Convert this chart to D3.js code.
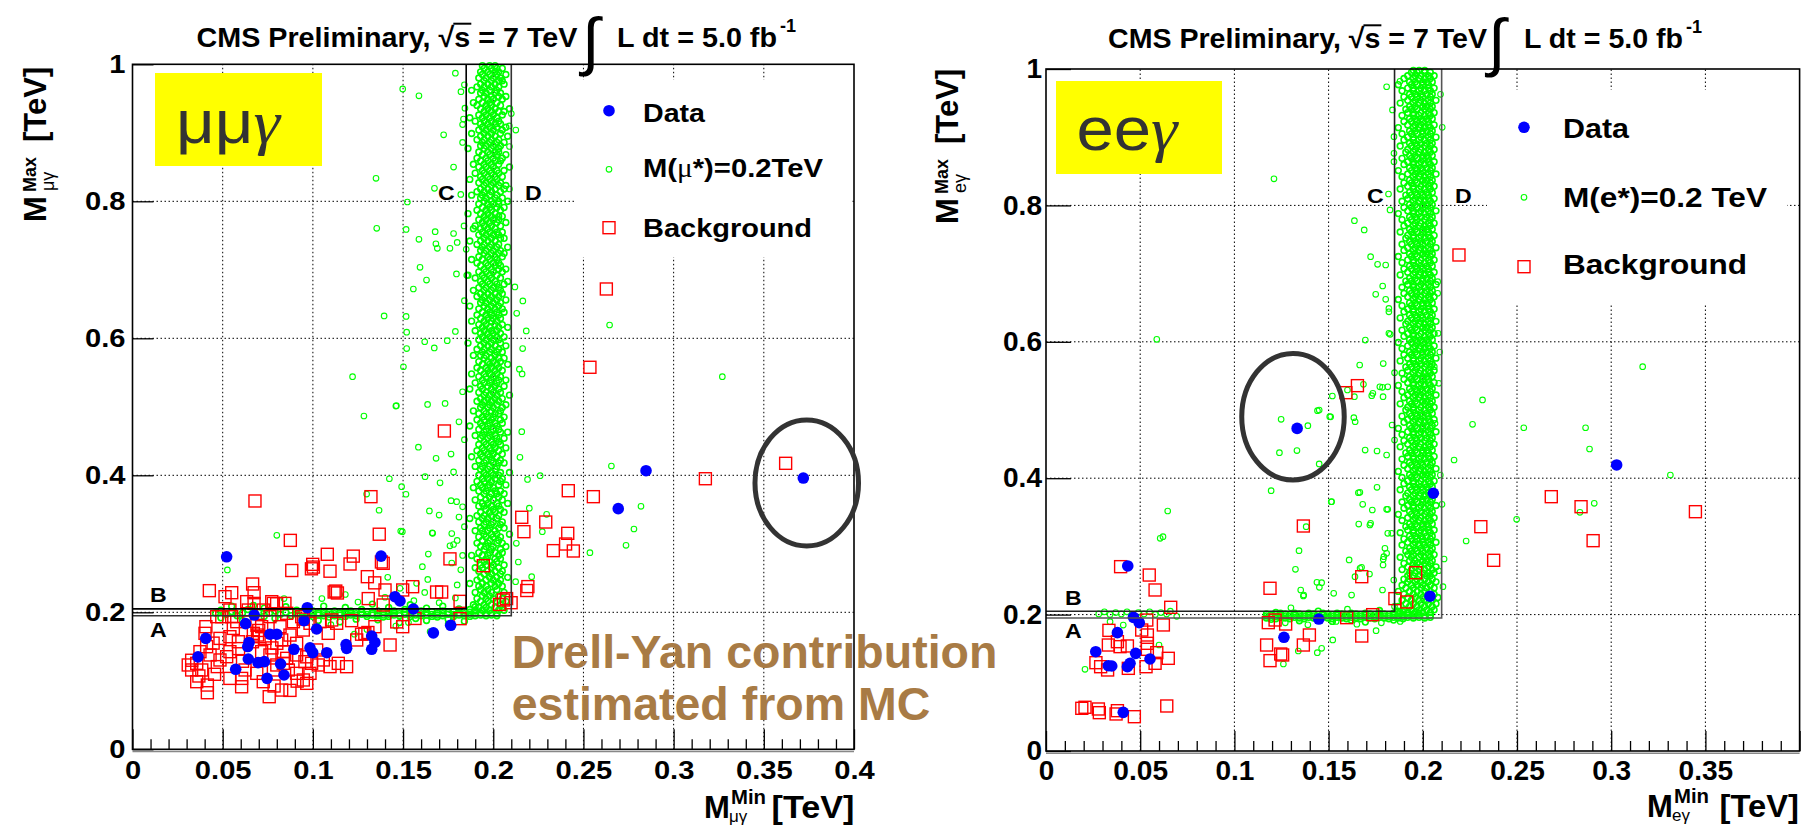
<!DOCTYPE html>
<html><head><meta charset="utf-8">
<script src="https://cdn.jsdelivr.net/npm/d3@7"></script>
<style>
body{margin:0;background:#fff}
svg{display:block}
text{font-family:"Liberation Sans",Arial,Helvetica,sans-serif}
</style>
</head><body>
<svg id="c" width="1812" height="827"></svg>
<script>
// ---------------- axis ticks ----------------
const xMajor = [0,0.05,0.1,0.15,0.2,0.25,0.3,0.35,0.4];
const xLabelsMu = ["0","0.05","0.1","0.15","0.2","0.25","0.3","0.35","0.4"];
const xLabelsE = ["0","0.05","0.1","0.15","0.2","0.25","0.3","0.35",""];
const xMinor = [0.01,0.02,0.03,0.04,0.06,0.07,0.08,0.09,0.11,0.12,0.13,0.14,0.16,0.17,0.18,0.19,0.21,0.22,0.23,0.24,0.26,0.27,0.28,0.29,0.31,0.32,0.33,0.34,0.36,0.37,0.38,0.39];
const yMajor = [0,0.2,0.4,0.6,0.8,1];
const yLabels = ["0","0.2","0.4","0.6","0.8","1"];
const gridX = [0.05,0.1,0.15,0.2,0.25,0.3,0.35];
const gridY = [0.2,0.4,0.6,0.8];
// selection boundaries (TeV): inner cut and outer cut
const cutInner = [0.185, 0.205];
const cutOuter = [0.21, 0.195];
// highlighted events (centre x, centre y, half-width, half-height in TeV)
const circleMu = [0.3738, 0.3888, 0.0287, 0.092];
const circleE = [0.1311, 0.4902, 0.0272, 0.0928];

// ---------------- mu mu gamma : data ----------------
const muData = [[0.0522,0.281],[0.1378,0.282],[0.0969,0.2067],[0.0675,0.196],[0.0627,0.1834],[0.0951,0.1878],[0.1021,0.1756],[0.0406,0.162],[0.0363,0.135],[0.0646,0.156],[0.0639,0.150],[0.0762,0.168],[0.080,0.168],[0.0895,0.146],[0.0984,0.148],[0.0999,0.141],[0.1077,0.141],[0.0642,0.1318],[0.0696,0.1265],[0.0731,0.128],[0.0821,0.1245],[0.0572,0.1168],[0.084,0.1085],[0.0746,0.1036],[0.1184,0.153],[0.1187,0.1474],[0.1326,0.1654],[0.1344,0.156],[0.1326,0.146],[0.1455,0.2228],[0.1483,0.2165],[0.1557,0.2048],[0.1668,0.170],[0.1764,0.181],[0.2847,0.4067],[0.2693,0.3513],[0.3719,0.396]];

const muBkg = [[0.0679,0.3625],[0.1322,0.3688],[0.0875,0.305],[0.1368,0.314],[0.108,0.2847],[0.1224,0.282],[0.0999,0.270],[0.1003,0.266],[0.0992,0.2635],[0.0883,0.261],[0.1095,0.260],[0.1206,0.2705],[0.139,0.2715],[0.1302,0.252],[0.1343,0.243],[0.176,0.278],[0.1945,0.268],[0.2158,0.3387],[0.217,0.3177],[0.2192,0.2375],[0.2186,0.2318],
[0.0426,0.2316],[0.0666,0.2413],[0.055,0.2286],[0.0513,0.2228],[0.0674,0.2286],[0.0674,0.213],[0.0772,0.2155],[0.0845,0.213],[0.1127,0.231],[0.1118,0.2296],[0.1136,0.2282],[0.1307,0.22],[0.14,0.2326],[0.139,0.2107],[0.1553,0.2374],[0.1686,0.2296],[0.1714,0.2296],[0.1816,0.216],[0.1498,0.2326],[0.2056,0.218],[0.2074,0.220],[0.1816,0.1907],[0.1498,0.179],[0.1566,0.191],[0.1465,0.186],[0.1215,0.1878],[0.1104,0.1888],[0.1085,0.1693],[0.1344,0.179],[0.127,0.168],[0.1288,0.169],[0.1305,0.1705],[0.1428,0.1523],[0.1243,0.1596],[0.1187,0.1206],
[0.1729,0.4647],[0.2627,0.672],[0.2536,0.5577],[0.2416,0.3775],[0.2555,0.3688],[0.3176,0.395],[0.3621,0.4175],[0.2291,0.3318],[0.2333,0.290],[0.2401,0.2997],[0.2413,0.3153],[0.2444,0.2895],[0.138,0.2735],[0.2099,0.214],[0.2035,0.2115],
[0.0328,0.130],[0.0328,0.1158],[0.0356,0.0987],[0.0415,0.0938],[0.0415,0.0826],[0.0384,0.1158],[0.0374,0.1425],[0.0407,0.179],[0.0402,0.1693],[0.043,0.1377],[0.0485,0.1619],[0.047,0.1207],[0.054,0.1035],[0.0522,0.1352],[0.054,0.1425],[0.0559,0.1765],[0.055,0.1936],[0.0495,0.1936],[0.0587,0.157],[0.0605,0.1035],[0.0605,0.0913],[0.0624,0.1158],[0.067,0.1693],[0.0693,0.1668],[0.0702,0.1644],[0.0716,0.179],[0.0735,0.1619],[0.0716,0.1425],[0.0762,0.1377],[0.0689,0.1109],[0.0725,0.0987],[0.0758,0.0768],[0.0785,0.0924],[0.0827,0.0865],[0.0836,0.1425],[0.0855,0.1328],[0.080,0.1547],[0.0827,0.1596],[0.0873,0.1668],[0.091,0.1547],[0.0864,0.1158],[0.091,0.1109],[0.0947,0.1012],[0.0966,0.0963],[0.0984,0.1109],[0.0956,0.1279],[0.0993,0.1255],[0.103,0.1231],[0.1058,0.1304],[0.1095,0.1207],[0.1141,0.1255],[0.0947,0.1741],[0.0984,0.184],[0.0938,0.1936],[0.0892,0.1863],[0.0818,0.179],[0.0781,0.213],[0.0799,0.2125],[0.0855,0.1985],[0.0762,0.1936],[0.0725,0.2033],[0.0633,0.2155],[0.0642,0.2033],[0.0578,0.1863],[0.054,0.2033],[0.0467,0.1936],[0.0411,0.1498],[0.0356,0.1255],[0.0309,0.1231],[0.0485,0.1304],[0.054,0.1644],[0.0665,0.157],[0.080,0.1231],[0.0836,0.1255],[0.0966,0.135],[0.1021,0.145],[0.0781,0.1158],[0.091,0.1377],[0.1132,0.184],[0.104,0.1863],[0.0947,0.19],[0.069,0.181],[0.070,0.1735],[0.0588,0.147],[0.061,0.1285],[0.0447,0.155],[0.0773,0.148],[0.0455,0.1095],[0.0873,0.086],[0.0913,0.0995],[0.0368,0.107]];

const muSigScatter = [[0.1498,0.964],[0.1588,0.954],[0.179,0.987],[0.1725,0.897],[0.1821,0.96],[0.1843,0.936],[0.183,0.912],[0.1835,0.92],[0.183,0.886],[0.135,0.8336],[0.1524,0.799],[0.1674,0.819],[0.1354,0.7606],[0.1517,0.759],[0.1678,0.7556],[0.1588,0.7445],[0.1682,0.738],[0.169,0.7314],[0.176,0.7314],[0.178,0.753],[0.180,0.74],[0.1838,0.764],[0.185,0.73],[0.1594,0.7036],[0.163,0.685],[0.1557,0.672],[0.1796,0.694],[0.1853,0.692],[0.1395,0.6326],[0.1517,0.632],[0.152,0.609],[0.152,0.585],[0.162,0.595],[0.1673,0.586],[0.1745,0.5966],[0.1502,0.5585],[0.122,0.544],[0.146,0.501],[0.1636,0.5035],[0.1733,0.505],[0.1283,0.4866],[0.327,0.544],[0.2645,0.6194],[0.210,0.928],[0.2125,0.904],[0.2089,0.91],[0.209,0.88],[0.209,0.818],[0.2164,0.6545],[0.2183,0.6107],[0.2163,0.585],[0.2145,0.555],[0.216,0.548],[0.212,0.675],[0.213,0.6365],[0.2158,0.4637],[0.2148,0.4263],[0.219,0.394],[0.226,0.3994],[0.22,0.352],[0.2296,0.343],[0.2272,0.3177],[0.2128,0.3007],[0.2139,0.2734],[0.2213,0.252],[0.2124,0.2447],[0.2655,0.4136],[0.2819,0.3547],[0.278,0.3216],[0.2736,0.2978],[0.2536,0.287],
[0.1585,0.441],[0.1683,0.4248],[0.1766,0.431],[0.1424,0.395],[0.1492,0.3834],[0.1516,0.3723],[0.1622,0.398],[0.1705,0.389],[0.1766,0.363],[0.1646,0.348],[0.170,0.342],[0.1487,0.3187],[0.1664,0.3153],[0.164,0.285],[0.1607,0.2666],[0.176,0.297],[0.178,0.299],[0.180,0.24],[0.1637,0.248],[0.1483,0.235],[0.080,0.3124],[0.0526,0.2618],[0.1298,0.3726],[0.1367,0.349],[0.1496,0.3177],[0.1662,0.316],[0.1415,0.251],[0.1575,0.2423],[0.1797,0.3615],[0.183,0.354],[0.177,0.315],[0.180,0.305],[0.184,0.325],[0.1463,0.5016],
[0.105,0.22],[0.118,0.226],[0.125,0.215],[0.14,0.222],[0.156,0.217],[0.162,0.229],[0.17,0.214],[0.179,0.221],[0.11,0.182],[0.13,0.175],[0.146,0.18],[0.165,0.172],[0.175,0.183],[0.084,0.22],[0.123,0.168],[0.153,0.185],[0.182,0.262],[0.177,0.272],[0.183,0.283],[0.181,0.339],[0.178,0.405],[0.184,0.452],[0.181,0.478],[0.183,0.522],[0.179,0.61],[0.184,0.655],[0.182,0.81],[0.178,0.85],[0.184,0.97]];

// signal band: each row = [M_max, M_min values read across the band at that height]
const muVBand = [
[0.203,0.190,0.194,0.198,0.203,0.206],[0.207,0.192,0.196,0.201,0.205],[0.211,0.189,0.195,0.199,0.204],[0.216,0.193,0.197,0.202,0.207],[0.220,0.191,0.196,0.200,0.205],[0.224,0.194,0.198,0.203],[0.229,0.190,0.195,0.199,0.206],[0.233,0.193,0.197,0.202],[0.238,0.192,0.196,0.201,0.205],[0.242,0.194,0.199,0.203,0.187],
[0.247,0.191,0.196,0.200,0.204],[0.251,0.193,0.198,0.202,0.208],[0.256,0.195,0.199,0.204],[0.260,0.192,0.197,0.201,0.205],[0.265,0.190,0.194,0.199,0.203],[0.269,0.193,0.196,0.200,0.206],[0.274,0.195,0.198,0.202],[0.278,0.191,0.196,0.201,0.204],[0.283,0.194,0.197,0.203,0.188],[0.287,0.192,0.198,0.201,0.205],
[0.292,0.195,0.199,0.204],[0.296,0.193,0.196,0.200,0.207],[0.301,0.191,0.197,0.202,0.205],[0.305,0.194,0.198,0.203],[0.310,0.192,0.196,0.200,0.204],[0.314,0.195,0.199,0.202,0.209],[0.319,0.190,0.194,0.197,0.201],[0.323,0.193,0.198,0.203,0.206],[0.328,0.195,0.199,0.204],[0.332,0.192,0.196,0.200,0.205],
[0.337,0.194,0.197,0.202,0.187],[0.341,0.191,0.195,0.199,0.203],[0.346,0.193,0.198,0.201,0.206],[0.350,0.196,0.200,0.204],[0.355,0.192,0.195,0.199,0.203],[0.359,0.194,0.197,0.202,0.208],[0.364,0.190,0.196,0.200,0.205],[0.368,0.193,0.198,0.203],[0.373,0.195,0.199,0.202,0.206],[0.377,0.192,0.196,0.201,0.204],
[0.382,0.194,0.197,0.200,0.189],[0.386,0.193,0.198,0.203,0.207],[0.391,0.191,0.195,0.199,0.204],[0.395,0.194,0.197,0.201,0.205],[0.400,0.192,0.196,0.200,0.203],[0.404,0.195,0.199,0.204,0.209],[0.409,0.193,0.197,0.201],[0.413,0.190,0.194,0.198,0.202],[0.418,0.195,0.200,0.203,0.206],[0.422,0.192,0.196,0.199,0.204],
[0.427,0.194,0.198,0.202,0.188],[0.431,0.193,0.197,0.200,0.205],[0.436,0.191,0.195,0.199,0.203],[0.440,0.194,0.198,0.201,0.207],[0.445,0.192,0.196,0.200,0.204],[0.449,0.195,0.199,0.203],[0.454,0.193,0.197,0.202,0.206],[0.458,0.190,0.194,0.198,0.201],[0.463,0.195,0.199,0.204,0.208],[0.467,0.192,0.196,0.200,0.203],
[0.472,0.194,0.197,0.202,0.187],[0.476,0.193,0.198,0.201,0.205],[0.481,0.191,0.195,0.199,0.204],[0.485,0.194,0.197,0.200,0.206],[0.490,0.192,0.196,0.201,0.203],[0.494,0.195,0.199,0.204,0.189],[0.499,0.193,0.197,0.200,0.205],[0.503,0.194,0.198,0.202,0.207],[0.508,0.191,0.195,0.199,0.203],[0.512,0.193,0.197,0.201,0.205],
[0.517,0.195,0.198,0.202,0.209],[0.521,0.192,0.196,0.200,0.204],[0.526,0.194,0.199,0.203,0.187],[0.530,0.193,0.197,0.201,0.206],[0.535,0.190,0.195,0.198,0.202],[0.539,0.194,0.199,0.203,0.207],[0.544,0.192,0.196,0.200,0.204],[0.548,0.195,0.198,0.202,0.188],[0.553,0.193,0.197,0.201,0.205],[0.557,0.191,0.196,0.199,0.203],
[0.562,0.194,0.198,0.202,0.208],[0.566,0.192,0.197,0.200,0.204],[0.571,0.195,0.199,0.203,0.206],[0.575,0.193,0.196,0.201,0.189],[0.580,0.194,0.198,0.202,0.205],[0.584,0.191,0.195,0.199,0.203],[0.589,0.193,0.197,0.201,0.207],[0.593,0.195,0.199,0.204,0.186],[0.598,0.192,0.196,0.200,0.203],[0.602,0.194,0.198,0.202,0.206],
[0.607,0.193,0.197,0.200,0.204],[0.611,0.190,0.195,0.199,0.202],[0.616,0.194,0.198,0.203,0.208],[0.620,0.192,0.196,0.201,0.205],[0.625,0.195,0.199,0.202,0.188],[0.629,0.193,0.197,0.200,0.204],[0.634,0.191,0.196,0.199,0.203],[0.638,0.194,0.198,0.202,0.206],[0.643,0.192,0.197,0.201,0.205],[0.647,0.195,0.199,0.203,0.187],
[0.652,0.193,0.196,0.200,0.204],[0.656,0.194,0.198,0.202,0.207],[0.661,0.191,0.195,0.199,0.203],[0.665,0.193,0.197,0.201,0.205],[0.670,0.195,0.199,0.204,0.189],[0.674,0.192,0.196,0.200,0.203],[0.679,0.194,0.198,0.202,0.206],[0.683,0.193,0.197,0.201,0.208],[0.688,0.190,0.195,0.199,0.204],[0.692,0.194,0.198,0.202,0.186],
[0.697,0.192,0.196,0.200,0.205],[0.701,0.195,0.199,0.203,0.207],[0.706,0.193,0.197,0.201,0.204],[0.710,0.191,0.196,0.200,0.203],[0.715,0.194,0.198,0.202,0.188],[0.719,0.192,0.197,0.201,0.205],[0.724,0.195,0.199,0.203,0.206],[0.728,0.193,0.196,0.200,0.204],[0.733,0.194,0.198,0.202,0.208],[0.737,0.191,0.195,0.199,0.203],
[0.742,0.193,0.197,0.201,0.187],[0.746,0.195,0.199,0.204,0.206],[0.751,0.192,0.196,0.200,0.203],[0.755,0.194,0.198,0.202,0.205],[0.760,0.193,0.197,0.201,0.189],[0.764,0.190,0.195,0.199,0.204],[0.769,0.194,0.198,0.202,0.207],[0.773,0.192,0.196,0.200,0.203],[0.778,0.195,0.199,0.203,0.205],[0.782,0.193,0.197,0.201,0.186],
[0.787,0.191,0.196,0.199,0.204],[0.791,0.194,0.198,0.202,0.206],[0.796,0.192,0.197,0.200,0.203],[0.800,0.195,0.199,0.203,0.208],[0.805,0.193,0.196,0.201,0.205],[0.809,0.194,0.198,0.202,0.188],[0.814,0.191,0.195,0.199,0.204],[0.818,0.193,0.197,0.201,0.206],[0.823,0.195,0.199,0.203,0.207],[0.827,0.192,0.196,0.200,0.204],
[0.832,0.194,0.198,0.202,0.187],[0.836,0.193,0.197,0.201,0.205],[0.841,0.190,0.195,0.199,0.203],[0.845,0.194,0.198,0.202,0.206],[0.850,0.192,0.196,0.200,0.209],[0.854,0.195,0.199,0.203,0.189],[0.859,0.193,0.197,0.201,0.204],[0.863,0.191,0.196,0.200,0.205],[0.868,0.194,0.198,0.202,0.207],[0.872,0.192,0.197,0.201,0.203],
[0.877,0.195,0.199,0.203,0.186],[0.881,0.193,0.196,0.200,0.204],[0.886,0.194,0.198,0.202,0.206],[0.890,0.191,0.195,0.199,0.203],[0.895,0.193,0.197,0.201,0.208],[0.899,0.195,0.199,0.204,0.188],[0.904,0.192,0.196,0.200,0.205],[0.908,0.194,0.198,0.202,0.207],[0.913,0.193,0.197,0.201,0.204],[0.917,0.190,0.195,0.199,0.203],
[0.922,0.194,0.198,0.202,0.187],[0.926,0.192,0.196,0.200,0.205],[0.931,0.195,0.199,0.203,0.206],[0.935,0.193,0.197,0.201,0.209],[0.940,0.191,0.196,0.199,0.204],[0.944,0.194,0.198,0.202,0.189],[0.949,0.192,0.197,0.200,0.205],[0.953,0.195,0.199,0.203,0.207],[0.958,0.193,0.196,0.201,0.204],[0.962,0.194,0.198,0.202,0.188],
[0.967,0.191,0.195,0.199,0.203],[0.971,0.193,0.197,0.201,0.206],[0.976,0.195,0.199,0.203,0.205],[0.980,0.192,0.196,0.200,0.204],[0.985,0.194,0.198,0.202,0.207],[0.989,0.193,0.197,0.201,0.203],[0.994,0.195,0.199,0.202,0.205],[0.998,0.194,0.198,0.201]];

// signal band along M_max ~ 0.2: each column = [M_min, M_max values read down that column]
const muHBand = [[0.046,0.199],[0.049,0.203,0.192],[0.052,0.197],[0.055,0.201,0.209],[0.058,0.195],[0.061,0.199,0.188],[0.064,0.204],[0.067,0.197,0.210],[0.070,0.200],[0.073,0.194,0.206],[0.076,0.199],[0.079,0.202,0.191],[0.082,0.197],[0.085,0.200,0.208],[0.088,0.195],[0.091,0.198,0.203],[0.094,0.200,0.192],
[0.097,0.196,0.200,0.205],[0.100,0.194,0.198,0.202],[0.103,0.196,0.199,0.188],[0.106,0.195,0.198,0.201,0.209],[0.109,0.197,0.200,0.193],[0.112,0.195,0.198,0.202],[0.115,0.196,0.199,0.186],[0.118,0.194,0.197,0.201,0.207],[0.121,0.196,0.199,0.202],[0.124,0.195,0.198,0.190],[0.127,0.197,0.200,0.204],[0.130,0.194,0.197,0.201],[0.133,0.196,0.199,0.212],[0.136,0.195,0.198,0.202,0.189],[0.139,0.196,0.200,0.193],[0.142,0.194,0.197,0.201,0.207],[0.145,0.196,0.199,0.202],[0.148,0.195,0.198,0.185],[0.151,0.197,0.200,0.204],[0.154,0.194,0.197,0.201,0.211],[0.157,0.196,0.199,0.191],[0.160,0.195,0.198,0.202],[0.163,0.196,0.200,0.206,0.188],[0.166,0.194,0.197,0.201],[0.169,0.196,0.199,0.193],[0.172,0.195,0.198,0.202,0.209],[0.175,0.197,0.200,0.190],[0.178,0.194,0.197,0.201],[0.181,0.196,0.199,0.205],[0.184,0.195,0.198,0.202,0.187],[0.187,0.194,0.197,0.200,0.204],[0.190,0.195,0.198,0.202,0.208],[0.193,0.196,0.199],[0.196,0.195,0.198],[0.199,0.196,0.199],[0.202,0.195,0.198]];

// ---------------- e e gamma : data ----------------
const eData = [[0.0434,0.2713],[0.0464,0.196],[0.0495,0.1882],[0.0379,0.1735],[0.0264,0.1456],[0.0476,0.1432],[0.0552,0.1349],[0.0331,0.125],[0.0349,0.1246],[0.0432,0.1236],[0.0446,0.1286],[0.041,0.0567],[0.1263,0.1667],[0.1448,0.1935],[0.2056,0.3779],[0.2038,0.227],[0.1333,0.473],[0.3029,0.4194]];

const eBkg = [[0.0396,0.2703],[0.0548,0.258],[0.0579,0.2361],[0.0662,0.2107],[0.0623,0.1848],[0.0535,0.192],[0.0508,0.1774],[0.0334,0.1769],[0.0538,0.1701],[0.0538,0.1579],[0.0538,0.1491],[0.0331,0.1554],[0.0393,0.153],[0.0379,0.1603],[0.0432,0.154],[0.0588,0.1442],[0.0649,0.1359],[0.0579,0.1286],[0.0265,0.1295],[0.029,0.1236],[0.0327,0.1188],[0.0437,0.1212],[0.0531,0.1236],[0.0207,0.0641],[0.0283,0.0562],[0.0379,0.0591],[0.0469,0.0503],[0.0641,0.066],[0.019,0.0626],[0.0278,0.0616],[0.0372,0.0543],[0.1366,0.3299],[0.1189,0.2386],[0.118,0.1882],[0.1216,0.1921],[0.1272,0.1862],[0.1171,0.1554],[0.1189,0.1325],[0.1246,0.1422],[0.1256,0.1408],[0.1398,0.1701],[0.1366,0.1554],[0.1596,0.1955],[0.1676,0.1686],[0.1734,0.1999],[0.1676,0.2556],[0.1852,0.2234],[0.1915,0.2185],[0.1962,0.2614],[0.2192,0.7273],[0.2682,0.3729],[0.284,0.3582],[0.3447,0.3509],[0.2308,0.3289],[0.2904,0.3084],[0.2376,0.2796],[0.1653,0.5357],[0.1592,0.5254]];

const eSigScatter = [[0.121,0.839],[0.1808,0.974],[0.1879,0.982],[0.1839,0.94],[0.1847,0.9008],[0.1847,0.8764],[0.1847,0.8641],[0.1818,0.8167],[0.1826,0.7933],[0.1637,0.7776],[0.1689,0.764],[0.1723,0.7248],[0.176,0.7136],[0.1803,0.7126],[0.1787,0.6818],[0.175,0.6696],[0.1803,0.6623],[0.182,0.649],[0.182,0.644],[0.1695,0.6026],[0.182,0.6124],[0.0588,0.6036],[0.1665,0.566],[0.179,0.568],[0.185,0.5547],[0.3167,0.5635],[0.2317,0.5147],[0.2094,0.9629],[0.2103,0.9145],[0.2079,0.6881],[0.2079,0.6711],[0.2081,0.6124],[0.209,0.585],[0.145,0.50],[0.1511,0.490],[0.1735,0.5245],[0.1772,0.534],
[0.1827,0.611],[0.1786,0.5333],[0.1729,0.521],[0.1685,0.5377],[0.1637,0.5195],[0.1634,0.4887],[0.1641,0.4828],[0.1506,0.4902],[0.1441,0.499],[0.1248,0.4864],[0.1239,0.4374],[0.152,0.5205],[0.16,0.5293],[0.1694,0.4413],[0.1757,0.4399],[0.1808,0.434],[0.185,0.456],[0.1837,0.478],[0.1814,0.534],[0.1789,0.5195],[0.1195,0.3817],[0.1666,0.3793],[0.1757,0.3866],[0.1514,0.3655],[0.1681,0.3617],[0.1732,0.3534],[0.1814,0.3544],[0.166,0.3328],[0.1723,0.3338],[0.1719,0.3314],[0.1381,0.3289],[0.1343,0.2937],[0.1324,0.2664],[0.1438,0.2473],[0.1463,0.2468],[0.1451,0.24],[0.1352,0.2361],[0.1368,0.2287],[0.1609,0.2801],[0.1675,0.2694],[0.1717,0.2595],[0.1527,0.2312],[0.1622,0.2287],[0.1793,0.2849],[0.1799,0.2972],[0.1789,0.2727],[0.1786,0.2361],[0.1846,0.2507],[0.1814,0.3192],
[0.2085,0.5391],[0.2061,0.5635],[0.2065,0.4805],[0.2102,0.3617],[0.2113,0.2815],[0.2107,0.2409],[0.2084,0.2643],[0.2093,0.4047],[0.2166,0.4267],[0.2264,0.479],[0.2536,0.474],[0.2864,0.474],[0.2885,0.4428],[0.3314,0.4047],[0.291,0.3632],[0.2834,0.35],[0.2498,0.3397],[0.223,0.3079],
[0.1752,0.1764],[0.1522,0.1628],[0.144,0.1442],[0.1463,0.1506],[0.1339,0.1466],[0.126,0.1276],[0.1366,0.2273],[0.164,0.2556],[0.1667,0.2678],[0.1808,0.2898],[0.179,0.281],[0.1835,0.3192],[0.1808,0.3544],[0.1516,0.3656],[0.1658,0.3787],
[0.127,0.188],[0.139,0.185],[0.154,0.19],[0.165,0.186],[0.178,0.188],[0.188,0.19],[0.13,0.21],[0.16,0.208],[0.185,0.212],
[0.028,0.201],[0.031,0.204],[0.034,0.200],[0.037,0.203],[0.040,0.201],[0.043,0.204],[0.046,0.200],[0.049,0.203],[0.052,0.201],[0.055,0.204],[0.058,0.200],[0.061,0.203],[0.064,0.201],[0.066,0.205],[0.034,0.1896],[0.041,0.1847],[0.0207,0.1197],[0.060,0.1554],[0.0694,0.1974],[0.0646,0.3519],[0.0606,0.3119],[0.0621,0.3143],[0.1332,0.4405],[0.1390,0.4770],[0.1450,0.4210]];

const eVBand = [
[0.203,0.188,0.192,0.196,0.200,0.204],[0.207,0.190,0.194,0.198,0.202,0.206],[0.212,0.187,0.193,0.197,0.201,0.205],[0.216,0.191,0.195,0.199,0.203,0.207],[0.221,0.189,0.194,0.198,0.202,0.205],[0.225,0.192,0.196,0.200,0.204,0.208],[0.230,0.190,0.195,0.199,0.203,0.206],[0.234,0.193,0.197,0.201,0.204,0.187],[0.239,0.191,0.195,0.199,0.202,0.206],[0.243,0.194,0.197,0.200,0.204,0.189],
[0.248,0.192,0.196,0.199,0.203,0.207],[0.252,0.193,0.197,0.201,0.205,0.190],[0.257,0.195,0.198,0.202,0.204,0.192],[0.261,0.193,0.196,0.200,0.203,0.206],[0.266,0.194,0.198,0.201,0.205,0.189],[0.270,0.192,0.196,0.199,0.203,0.207],[0.275,0.195,0.197,0.201,0.204,0.190],[0.279,0.193,0.196,0.200,0.202,0.205],[0.284,0.194,0.198,0.201,0.204,0.188],[0.288,0.192,0.195,0.199,0.203,0.206],
[0.293,0.194,0.197,0.200,0.204,0.191],[0.297,0.193,0.196,0.199,0.202,0.205],[0.302,0.195,0.198,0.201,0.204,0.189],[0.306,0.192,0.196,0.200,0.203,0.207],[0.311,0.194,0.197,0.200,0.204,0.190],[0.315,0.193,0.196,0.199,0.202,0.205],[0.320,0.195,0.198,0.201,0.204,0.188],[0.324,0.192,0.195,0.199,0.203,0.206],[0.329,0.194,0.197,0.200,0.203,0.191],[0.333,0.193,0.196,0.200,0.202,0.205],
[0.338,0.195,0.198,0.201,0.204,0.189],[0.342,0.192,0.196,0.199,0.203,0.206],[0.347,0.194,0.197,0.201,0.204,0.187],[0.351,0.193,0.196,0.199,0.202,0.205],[0.356,0.195,0.198,0.201,0.204,0.190],[0.360,0.192,0.195,0.199,0.203,0.207],[0.365,0.194,0.197,0.200,0.204,0.189],[0.369,0.193,0.196,0.200,0.202,0.205],[0.374,0.195,0.198,0.201,0.204,0.191],[0.378,0.192,0.196,0.199,0.203,0.206],
[0.383,0.194,0.197,0.200,0.203,0.188],[0.387,0.193,0.196,0.199,0.202,0.205],[0.392,0.195,0.198,0.201,0.204,0.190],[0.396,0.192,0.195,0.199,0.203,0.206],[0.401,0.194,0.197,0.201,0.204,0.189],[0.405,0.193,0.196,0.200,0.202,0.205],[0.410,0.195,0.198,0.201,0.204,0.187],[0.414,0.192,0.196,0.199,0.203,0.207],[0.419,0.194,0.197,0.200,0.204,0.190],[0.423,0.193,0.196,0.199,0.202,0.205],
[0.428,0.195,0.198,0.201,0.204,0.189],[0.432,0.192,0.195,0.199,0.203,0.206],[0.437,0.194,0.197,0.200,0.203,0.191],[0.441,0.193,0.196,0.200,0.202,0.205],[0.446,0.195,0.198,0.201,0.204,0.188],[0.450,0.192,0.196,0.199,0.203,0.206],[0.455,0.194,0.197,0.201,0.204,0.190],[0.459,0.193,0.196,0.199,0.202,0.205],[0.464,0.195,0.198,0.201,0.204,0.189],[0.468,0.192,0.195,0.199,0.203,0.207],
[0.473,0.194,0.197,0.200,0.204,0.187],[0.477,0.193,0.196,0.200,0.202,0.205],[0.482,0.195,0.198,0.201,0.204,0.190],[0.486,0.192,0.196,0.199,0.203,0.206],[0.491,0.194,0.197,0.200,0.203,0.189],[0.495,0.193,0.196,0.199,0.202,0.205],[0.500,0.195,0.198,0.201,0.204,0.191],[0.504,0.192,0.195,0.199,0.203,0.206],[0.509,0.194,0.197,0.201,0.204,0.188],[0.513,0.193,0.196,0.200,0.202,0.205],
[0.518,0.195,0.198,0.201,0.204,0.190],[0.522,0.192,0.196,0.199,0.203,0.207],[0.527,0.194,0.197,0.200,0.204,0.189],[0.531,0.193,0.196,0.199,0.202,0.205],[0.536,0.195,0.198,0.201,0.204,0.187],[0.540,0.192,0.195,0.199,0.203,0.206],[0.545,0.194,0.197,0.200,0.203,0.190],[0.549,0.193,0.196,0.200,0.202,0.205],[0.554,0.195,0.198,0.201,0.204,0.189],[0.558,0.192,0.196,0.199,0.203,0.206],
[0.563,0.194,0.197,0.201,0.204,0.191],[0.567,0.193,0.196,0.199,0.202,0.205],[0.572,0.195,0.198,0.201,0.204,0.188],[0.576,0.192,0.195,0.199,0.203,0.207],[0.581,0.194,0.197,0.200,0.204,0.190],[0.585,0.193,0.196,0.200,0.202,0.205],[0.590,0.195,0.198,0.201,0.204,0.189],[0.594,0.192,0.196,0.199,0.203,0.206],[0.599,0.194,0.197,0.200,0.203,0.187],[0.603,0.193,0.196,0.199,0.202,0.205],
[0.608,0.195,0.198,0.201,0.204,0.190],[0.612,0.192,0.195,0.199,0.203,0.206],[0.617,0.194,0.197,0.201,0.204,0.189],[0.621,0.193,0.196,0.200,0.202,0.205],[0.626,0.195,0.198,0.201,0.204,0.191],[0.630,0.192,0.196,0.199,0.203,0.207],[0.635,0.194,0.197,0.200,0.204,0.188],[0.639,0.193,0.196,0.199,0.202,0.205],[0.644,0.195,0.198,0.201,0.204,0.190],[0.648,0.192,0.195,0.199,0.203,0.206],
[0.653,0.194,0.197,0.200,0.203,0.189],[0.657,0.193,0.196,0.200,0.202,0.205],[0.662,0.195,0.198,0.201,0.204,0.187],[0.666,0.192,0.196,0.199,0.203,0.206],[0.671,0.194,0.197,0.201,0.204,0.190],[0.675,0.193,0.196,0.199,0.202,0.205],[0.680,0.195,0.198,0.201,0.204,0.189],[0.684,0.192,0.195,0.199,0.203,0.207],[0.689,0.194,0.197,0.200,0.204,0.191],[0.693,0.193,0.196,0.200,0.202,0.205],
[0.698,0.195,0.198,0.201,0.204,0.188],[0.702,0.192,0.196,0.199,0.203,0.206],[0.707,0.194,0.197,0.200,0.203,0.190],[0.711,0.193,0.196,0.199,0.202,0.205],[0.716,0.195,0.198,0.201,0.204,0.189],[0.720,0.192,0.195,0.199,0.203,0.206],[0.725,0.194,0.197,0.201,0.204,0.187],[0.729,0.193,0.196,0.200,0.202,0.205],[0.734,0.195,0.198,0.201,0.204,0.190],[0.738,0.192,0.196,0.199,0.203,0.207],
[0.743,0.194,0.197,0.200,0.204,0.189],[0.747,0.193,0.196,0.199,0.202,0.205],[0.752,0.195,0.198,0.201,0.204,0.191],[0.756,0.192,0.195,0.199,0.203,0.206],[0.761,0.194,0.197,0.200,0.203,0.188],[0.765,0.193,0.196,0.200,0.202,0.205],[0.770,0.195,0.198,0.201,0.204,0.190],[0.774,0.192,0.196,0.199,0.203,0.206],[0.779,0.194,0.197,0.201,0.204,0.189],[0.783,0.193,0.196,0.199,0.202,0.205],
[0.788,0.195,0.198,0.201,0.204,0.187],[0.792,0.192,0.195,0.199,0.203,0.207],[0.797,0.194,0.197,0.200,0.204,0.190],[0.801,0.193,0.196,0.200,0.202,0.205],[0.806,0.195,0.198,0.201,0.204,0.189],[0.810,0.192,0.196,0.199,0.203,0.206],[0.815,0.194,0.197,0.200,0.203,0.191],[0.819,0.193,0.196,0.199,0.202,0.205],[0.824,0.195,0.198,0.201,0.204,0.188],[0.828,0.192,0.195,0.199,0.203,0.206],
[0.833,0.194,0.197,0.201,0.204,0.190],[0.837,0.193,0.196,0.200,0.202,0.205],[0.842,0.195,0.198,0.201,0.204,0.189],[0.846,0.192,0.196,0.199,0.203,0.207],[0.851,0.194,0.197,0.200,0.204,0.187],[0.855,0.193,0.196,0.199,0.202,0.205],[0.860,0.195,0.198,0.201,0.204,0.190],[0.864,0.192,0.195,0.199,0.203,0.206],[0.869,0.194,0.197,0.200,0.203,0.189],[0.873,0.193,0.196,0.200,0.202,0.205],
[0.878,0.195,0.198,0.201,0.204,0.191],[0.882,0.192,0.196,0.199,0.203,0.206],[0.887,0.194,0.197,0.201,0.204,0.188],[0.891,0.193,0.196,0.199,0.202,0.205],[0.896,0.195,0.198,0.201,0.204,0.190],[0.900,0.192,0.195,0.199,0.203,0.207],[0.905,0.194,0.197,0.200,0.204,0.189],[0.909,0.193,0.196,0.200,0.202,0.205],[0.914,0.195,0.198,0.201,0.204,0.187],[0.918,0.192,0.196,0.199,0.203,0.206],
[0.923,0.194,0.197,0.200,0.203,0.190],[0.927,0.193,0.196,0.199,0.202,0.205],[0.932,0.195,0.198,0.201,0.204,0.189],[0.936,0.192,0.195,0.199,0.203,0.206],[0.941,0.194,0.197,0.201,0.204,0.191],[0.945,0.193,0.196,0.200,0.202,0.205],[0.950,0.195,0.198,0.201,0.204,0.188],[0.954,0.192,0.196,0.199,0.203,0.207],[0.959,0.194,0.197,0.200,0.204,0.190],[0.963,0.193,0.196,0.199,0.202,0.205],
[0.968,0.195,0.198,0.201,0.204,0.189],[0.972,0.192,0.195,0.199,0.203,0.206],[0.977,0.194,0.197,0.200,0.203,0.187],[0.981,0.193,0.196,0.200,0.202,0.205],[0.986,0.195,0.198,0.201,0.204,0.190],[0.990,0.192,0.196,0.199,0.203,0.206],[0.995,0.194,0.197,0.201,0.204],[0.998,0.195,0.198,0.201]];

const eHBand = [[0.117,0.195,0.198,0.201],[0.1195,0.196,0.199,0.193],[0.122,0.194,0.197,0.200,0.203],[0.1245,0.196,0.199,0.202],[0.127,0.195,0.198,0.201],[0.1295,0.194,0.197,0.200],[0.132,0.196,0.199,0.202],[0.1345,0.195,0.198,0.201,0.191],[0.137,0.194,0.197,0.200],[0.1395,0.196,0.199,0.202],[0.142,0.195,0.198,0.201],[0.1445,0.194,0.197,0.200,0.205],[0.147,0.196,0.199,0.202],[0.1495,0.195,0.198,0.201],[0.152,0.194,0.197,0.200,0.190],[0.1545,0.196,0.199,0.202],[0.157,0.195,0.198,0.201],[0.1595,0.194,0.197,0.200],[0.162,0.196,0.199,0.202,0.192],[0.1645,0.195,0.198,0.201],[0.167,0.194,0.197,0.200],[0.1695,0.196,0.199,0.202,0.189],[0.172,0.195,0.198,0.201],[0.1745,0.194,0.197,0.200],[0.177,0.196,0.199,0.202,0.206],[0.1795,0.195,0.198,0.201],[0.182,0.194,0.197,0.200],[0.1845,0.196,0.199,0.202,0.192],[0.187,0.195,0.198,0.201,0.205],[0.1895,0.194,0.197,0.200,0.204],[0.192,0.196,0.199,0.202],[0.195,0.195,0.198,0.201],[0.198,0.196,0.199,0.202],[0.201,0.195,0.198],[0.204,0.196,0.199]];

// ---------------- drawing ----------------
const svg = d3.select('#c');
const GREEN = '#00ff00', RED = '#ff0000', BLUE = '#0000ff';

function rowsToPoints(rows){ return rows.flatMap(r => r.slice(1).map(v => [v, r[0]])); }
function colsToPoints(cols){ return cols.flatMap(c => c.slice(1).map(v => [c[0], v])); }
function widen(sel, f){
  sel.each(function(){
    const w = this.getComputedTextLength();
    this.setAttribute('textLength', (w*f).toFixed(1));
    this.setAttribute('lengthAdjust','spacingAndGlyphs');
  });
}
function fit(sel, w){ sel.attr('textLength', w).attr('lengthAdjust','spacingAndGlyphs'); }

function drawPanel(cfg){
  const x = d3.scaleLinear().domain([0,0.4]).range([cfg.left, cfg.right]);
  const y = d3.scaleLinear().domain([0,1]).range([cfg.bottom, cfg.top]);
  const g = svg.append('g');

  // grid
  g.append('g').selectAll('line').data(gridX).join('line')
    .attr('x1', d=>x(d)).attr('x2', d=>x(d)).attr('y1', y(0)).attr('y2', y(1))
    .attr('stroke','#000').attr('stroke-width',1).attr('stroke-dasharray','1.5,2.5');
  g.append('g').selectAll('line').data(gridY).join('line')
    .attr('x1', x(0)).attr('x2', x(0.4)).attr('y1', d=>y(d)).attr('y2', d=>y(d))
    .attr('stroke','#000').attr('stroke-width',1).attr('stroke-dasharray','1.5,2.5');

  // signal MC: dense band (overlapping markers) then isolated markers
  const band = rowsToPoints(cfg.vband).concat(colsToPoints(cfg.hband));
  g.append('g').selectAll('circle').data(band).join('circle')
    .attr('cx', d=>x(d[0])).attr('cy', d=>y(d[1])).attr('r', 2.9)
    .attr('fill','none').attr('stroke',GREEN).attr('stroke-width',1.6);
  g.append('g').selectAll('circle').data(cfg.sigScatter).join('circle')
    .attr('cx', d=>x(d[0])).attr('cy', d=>y(d[1])).attr('r', 2.8)
    .attr('fill','none').attr('stroke',GREEN).attr('stroke-width',1.1);
  // background
  g.append('g').selectAll('rect').data(cfg.bkg).join('rect')
    .attr('x', d=>x(d[0])-6).attr('y', d=>y(d[1])-6).attr('width',12).attr('height',12)
    .attr('fill','none').attr('stroke',RED).attr('stroke-width',1.4);
  // data
  g.append('g').selectAll('circle').data(cfg.data).join('circle')
    .attr('cx', d=>x(d[0])).attr('cy', d=>y(d[1])).attr('r', 5.8).attr('fill',BLUE);

  // selection boundaries
  const p1 = d3.path(); p1.moveTo(x(0), y(cutInner[1])); p1.lineTo(x(cutInner[0]), y(cutInner[1])); p1.lineTo(x(cutInner[0]), y(1));
  const p2 = d3.path(); p2.moveTo(x(0), y(cutOuter[1])); p2.lineTo(x(cutOuter[0]), y(cutOuter[1])); p2.lineTo(x(cutOuter[0]), y(1));
  g.append('path').attr('d', p1.toString()).attr('fill','none').attr('stroke',cfg.cutColor1).attr('stroke-width',1.6);
  g.append('path').attr('d', p2.toString()).attr('fill','none').attr('stroke',cfg.cutColor2).attr('stroke-width',1.6);

  // axes
  const ax = g.append('g').attr('transform',`translate(0,${y(0)})`)
    .call(d3.axisBottom(x).tickValues(xMajor).tickSize(-20).tickPadding(cfg.xPad).tickFormat((d,i)=>cfg.xLabels[i]));
  const axm = g.append('g').attr('transform',`translate(0,${y(0)})`)
    .call(d3.axisBottom(x).tickValues(xMinor).tickSize(-10).tickFormat(''));
  const ay = g.append('g').attr('transform',`translate(${x(0)},0)`)
    .call(d3.axisLeft(y).tickValues(yMajor).tickSize(-cfg.yTick).tickPadding(cfg.yPad).tickFormat((d,i)=>yLabels[i]));
  [ax,axm,ay].forEach(a=>{ a.select('.domain').remove(); a.selectAll('line').attr('stroke','#000').attr('stroke-width',1.3); });
  ax.selectAll('text').attr('font-size',cfg.tickFont).attr('font-weight','bold').attr('fill','#000').attr('font-family','"Liberation Sans",Arial,sans-serif');
  ay.selectAll('text').attr('font-size',cfg.tickFont).attr('font-weight','bold').attr('fill','#000').attr('font-family','"Liberation Sans",Arial,sans-serif');
  widen(ax.selectAll('text'), cfg.stretch);
  widen(ay.selectAll('text'), cfg.stretch);

  // frame
  g.append('line').attr('x1',x(0)).attr('x2',x(0.4)).attr('y1',y(0)+2.2).attr('y2',y(0)+2.2).attr('stroke','#888').attr('stroke-width',1.5);
  g.append('rect').attr('x',x(0)).attr('y',y(1)).attr('width',x(0.4)-x(0)).attr('height',y(0)-y(1))
    .attr('fill','none').attr('stroke','#000').attr('stroke-width',1.6);

  // legend (white box)
  const L = cfg.legend;
  g.append('rect').attr('x',L.box[0]).attr('y',L.box[1]).attr('width',L.box[2]).attr('height',L.box[3]).attr('fill','#fff');
  g.append('circle').attr('cx',L.mx).attr('cy',L.my[0]).attr('r',5.8).attr('fill',BLUE);
  g.append('circle').attr('cx',L.mx).attr('cy',L.my[1]).attr('r',2.8).attr('fill','none').attr('stroke',GREEN).attr('stroke-width',1.1);
  g.append('rect').attr('x',L.mx-6).attr('y',L.my[2]-6).attr('width',12).attr('height',12).attr('fill','none').attr('stroke',RED).attr('stroke-width',1.4);
  const lt = (i, content, w) => {
    const t = g.append('text').attr('x',L.tx).attr('y',L.ty[i]).attr('font-size',L.font).attr('font-weight','bold');
    content(t); fit(t, w);
  };
  lt(0, t=>t.text('Data'), L.w[0]);
  lt(1, t=>{ t.append('tspan').text('M(');
             const s = t.append('tspan').text(cfg.lep);
             if (cfg.lepSerif) s.attr('font-family','"Liberation Serif",serif').attr('font-weight','normal');
             t.append('tspan').text(cfg.sigTail); }, L.w[1]);
  lt(2, t=>t.text('Background'), L.w[2]);

  // region letters
  cfg.letters.forEach(l=>{
    const t = g.append('text').attr('x',l[1]).attr('y',l[2]).attr('font-size',21).attr('font-weight','bold').text(l[0]);
    widen(t, 1.1);
  });

  // channel box
  const Y = cfg.ybox;
  g.append('rect').attr('x',Y.x).attr('y',Y.y).attr('width',Y.w).attr('height',Y.h).attr('fill','#ffff00');
  const ct = g.append('text').attr('x',Y.tx).attr('y',Y.ty).attr('font-size',62).attr('fill','#333');
  ct.append('tspan').text(Y.lead);
  ct.append('tspan').attr('font-family','"Liberation Serif",serif').attr('font-style','italic').text('γ');
  fit(ct, Y.tw);

  // axis titles
  const yt = g.append('g').attr('transform',`translate(${cfg.ytitle[0]},${cfg.ytitle[1]}) rotate(-90)`);
  yt.append('text').attr('x',0).attr('y',0).attr('font-size',31).attr('font-weight','bold').text('M');
  yt.append('text').attr('x',30).attr('y',-10).attr('font-size',18).attr('font-weight','bold').text('Max');
  yt.append('text').attr('x',31).attr('y',8).attr('font-size',18).attr('font-family','"Liberation Serif",serif').text(cfg.sub);
  yt.append('text').attr('x',80).attr('y',0).attr('font-size',31).attr('font-weight','bold').text('[TeV]');

  const X = cfg.xtitle;
  g.append('text').attr('x',X.m).attr('y',X.base).attr('font-size',31).attr('font-weight','bold').text('M');
  fit(g.append('text').attr('x',X.m+27).attr('y',X.base-14).attr('font-size',20).attr('font-weight','bold').text('Min'), 35);
  g.append('text').attr('x',X.m+25).attr('y',X.base+4).attr('font-size',17).attr('font-family','"Liberation Serif",serif').text(cfg.sub);
  fit(g.append('text').attr('x',X.tev).attr('y',X.base).attr('font-size',31).attr('font-weight','bold').text('[TeV]'), X.tevw);

  // highlighted events
  const c = cfg.circle;
  g.append('ellipse').attr('cx',x(c[0])).attr('cy',y(c[1])).attr('rx',x(c[2])-x(0)).attr('ry',y(0)-y(c[3]))
    .attr('fill','none').attr('stroke','#333').attr('stroke-width',5);

  // title
  const T = cfg.title;
  const t1 = g.append('text').attr('x',T.x).attr('y',T.base).attr('font-size',28).attr('font-weight','bold').text('CMS Preliminary, √s = 7 TeV');
  const node = t1.node();
  const full = node.getComputedTextLength();
  const sIdx = node.textContent.indexOf('√')+1;
  const sx0 = node.getSubStringLength(0, sIdx), sw = node.getSubStringLength(sIdx, 1);
  const f = T.w1 / full;
  fit(t1, T.w1);
  g.append('line').attr('x1',T.x + sx0*f - 1).attr('x2',T.x + (sx0+sw)*f + 1).attr('y1',T.base-23).attr('y2',T.base-23).attr('stroke','#000').attr('stroke-width',2);
  g.append('text').attr('x',T.ix).attr('y',T.base+16).attr('font-size',64).attr('font-family','"Liberation Serif",serif').text('∫');
  fit(g.append('text').attr('x',T.lx).attr('y',T.base).attr('font-size',28).attr('font-weight','bold').text('L dt = 5.0 fb'), T.w2);
  g.append('text').attr('x',T.sx).attr('y',T.base-15).attr('font-size',18).attr('font-weight','bold').text('-1');
}

drawPanel({
  left:132.5, right:854, top:64.3, bottom:749.3,
  data:muData, bkg:muBkg, sigScatter:muSigScatter, vband:muVBand, hband:muHBand,
  cutColor1:'#000', cutColor2:'#333',
  xLabels:xLabelsMu, xPad:11, yPad:7, yTick:21, tickFont:26, stretch:1.12,
  legend:{box:[575,80,275,177], mx:609, my:[110.7,169.3,227.7], tx:643, ty:[121.7,177,236.7], font:26.5, w:[62,180,169]},
  lep:'μ', lepSerif:true, sigTail:'*)=0.2TeV', sub:'μγ',
  letters:[['C',438,200],['D',525,200],['B',150,601.7],['A',150,637.3]],
  ybox:{x:155,y:73,w:167,h:93,tx:176,ty:143,tw:104,lead:'μμ'},
  ytitle:[46,222],
  xtitle:{m:704, base:818, tev:771.5, tevw:83},
  circle:circleMu,
  title:{x:196.5, base:46.7, w1:381, ix:582, lx:617, w2:160, sx:780}
});
drawPanel({
  left:1046, right:1799.6, top:69, bottom:751,
  data:eData, bkg:eBkg, sigScatter:eSigScatter, vband:eVBand, hband:eHBand,
  cutColor1:'#222', cutColor2:'#555',
  xLabels:xLabelsE, xPad:10, yPad:4, yTick:25, tickFont:27, stretch:1.04,
  legend:{box:[1487,90,300,213], mx:1524, my:[127.3,197.3,266.7], tx:1563, ty:[138,206.7,274], font:28, w:[66,204,184]},
  lep:'e', lepSerif:false, sigTail:'*)=0.2 TeV', sub:'eγ',
  letters:[['C',1367,202.7],['D',1455,202.7],['B',1065,605],['A',1065,638]],
  ybox:{x:1056,y:81,w:166,h:93,tx:1076.5,ty:150,tw:101,lead:'ee'},
  ytitle:[958,224],
  xtitle:{m:1647, base:816.7, tev:1719.5, tevw:79.5},
  circle:circleE,
  title:{x:1108, base:48.3, w1:379, ix:1488, lx:1524, w2:159, sx:1686}
});

// annotation
const dy = svg.append('g').attr('fill','#a87b45').attr('font-weight','bold').attr('font-size',46.5);
dy.append('text').attr('x',511.7).attr('y',668.3).text('Drell-Yan contribution');
dy.append('text').attr('x',511.7).attr('y',720).text('estimated from MC');
</script>
</body></html>
